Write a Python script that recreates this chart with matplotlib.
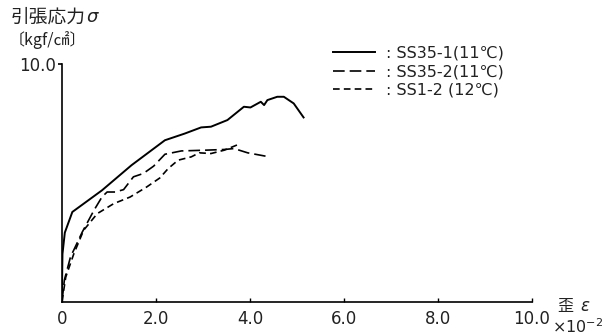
import matplotlib
matplotlib.use("Agg")
import matplotlib.pyplot as plt

plt.rcParams['font.family'] = ['DejaVu Sans', 'Noto Sans CJK JP']

# curves (strain x10^-2, stress kgf/cm2)
ss35_1_x = [0, 0.0, 0.01, 0.06, 0.22, 0.85, 1.48, 2.19, 2.61, 2.96, 3.17, 3.52,
            3.87, 4.01, 4.23, 4.30, 4.37, 4.58, 4.72, 4.93, 5.14]
ss35_1_y = [0, 0.6, 2.0, 2.9, 3.77, 4.68, 5.74, 6.79, 7.07, 7.33, 7.36, 7.64,
            8.2, 8.17, 8.41, 8.27, 8.48, 8.62, 8.62, 8.34, 7.75]

ss35_2_x = [0, 0.05, 0.18, 0.43, 0.68, 0.85, 0.96, 1.13, 1.31, 1.52, 1.73, 1.95,
            2.19, 2.54, 3.03, 3.45, 3.66, 3.95, 4.33]
ss35_2_y = [0, 0.9, 1.87, 2.92, 3.84, 4.4, 4.61, 4.61, 4.71, 5.25, 5.39, 5.7,
            6.2, 6.34, 6.37, 6.4, 6.44, 6.26, 6.12]

ss1_2_x = [0, 0.08, 0.25, 0.46, 0.75, 1.1, 1.45, 1.8, 2.08, 2.26, 2.47, 2.75,
           2.92, 3.17, 3.45, 3.80]
ss1_2_y = [0, 1.03, 2.0, 3.0, 3.7, 4.12, 4.4, 4.82, 5.2, 5.6, 5.95, 6.09,
           6.26, 6.23, 6.37, 6.65]

labels = [": SS35-1(11℃)", ": SS35-2(11℃)", ": SS1-2 (12℃)"]
xticks = [0, 2, 4, 6, 8, 10]
xtick_labels = ["0", "2.0", "4.0", "6.0", "8.0", "10.0"]

ink = "#222222"
cjk = ["Noto Sans CJK JP", "DejaVu Sans"]

W, H = 613, 335
fig = plt.figure(figsize=(W / 100, H / 100), dpi=100)
ax = fig.add_axes([62 / W, (H - 301.5) / H, (532 - 62) / W, (301.5 - 64) / H])

ax.plot(ss35_1_x, ss35_1_y, color="black", lw=1.4, label=labels[0])
ax.plot(ss35_2_x, ss35_2_y, color="black", lw=1.2, dashes=(7, 3), label=labels[1])
ax.plot(ss1_2_x, ss1_2_y, color="black", lw=1.2, dashes=(4, 2.5), label=labels[2])

ax.set_xlim(0, 10)
ax.set_ylim(0, 10)
ax.spines["top"].set_visible(False)
ax.spines["right"].set_visible(False)
for s in ["left", "bottom"]:
    ax.spines[s].set_linewidth(1.2)

ax.set_xticks(xticks)
ax.set_xticklabels(xtick_labels, fontsize=12, color=ink)
ax.tick_params(axis="x", direction="in", length=3, width=1, pad=6)
ax.set_yticks([10])
ax.set_yticklabels(["10.0"], fontsize=12, color=ink)
ax.tick_params(axis="y", direction="out", length=3, width=1.2, pad=1)

fig.text(11 / W, 1 - 17 / H, "引張応力", fontsize=13.5, va="center", ha="left", color=ink,
         family=cjk)
fig.text(86 / W, 1 - 17 / H, "σ", fontsize=13, style="italic", va="center", ha="left",
         color=ink)
fig.text(9 / W, 1 - 40 / H, "〔kgf/㎠〕", fontsize=11.5, va="center", ha="left", color=ink,
         family=cjk)

fig.text(557 / W, 1 - 307 / H, "歪", fontsize=11.5, va="center", ha="left", color=ink,
         family=cjk)
fig.text(580 / W, 1 - 306 / H, "ε", fontsize=12, style="italic", va="center", ha="left",
         color=ink)
fig.text(552 / W, 1 - 327 / H, "×10$^{-2}$", fontsize=11.5, va="center", ha="left", color=ink)

leg = ax.legend(loc="upper left", bbox_to_anchor=(333 / W, 1 - 46 / H),
                bbox_transform=fig.transFigure, frameon=False, fontsize=11.5,
                handlelength=2.6, handletextpad=0.7, labelspacing=0.2,
                borderpad=0, borderaxespad=0)
for t in leg.get_texts():
    t.set_color(ink)

fig.savefig("out.png", dpi=100)
